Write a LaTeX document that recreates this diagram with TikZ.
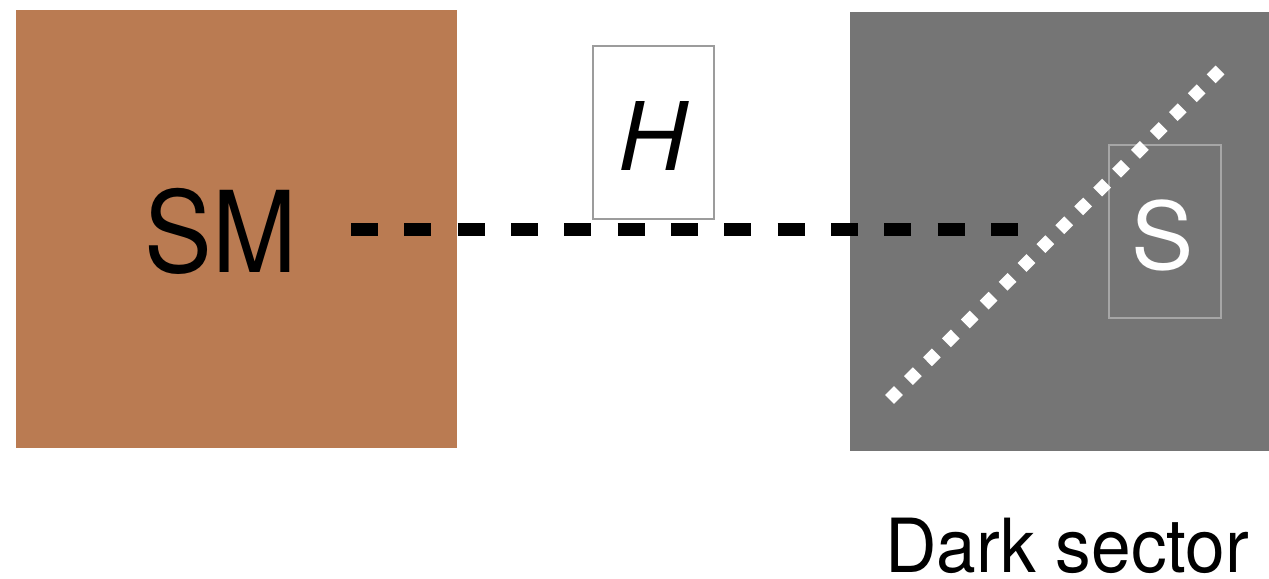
\documentclass[tikz,border=0pt]{standalone}
\usepackage{fontspec}
\setmainfont{TeX Gyre Heros}
\definecolor{smcol}{HTML}{BA7B52}
\definecolor{darkcol}{HTML}{757575}
\definecolor{boxgray}{HTML}{9C9C9C}
\definecolor{boxlight}{HTML}{A6A6A6}
\begin{document}
\begin{tikzpicture}[x=0.75pt,y=-0.75pt,
  sector/.style={draw=none,inner sep=0pt,outer sep=0pt},
  labelbox/.style={draw=#1,line width=1.5pt,inner sep=0pt,outer sep=0pt},
  bigtext/.style={inner sep=0pt,outer sep=0pt},
  mediator/.style={line width=9.75pt,dash pattern=on 20.25pt off 19.75pt,line cap=butt},
  darkline/.style={white,line width=9.4pt,dash pattern=on 9.4pt off 10.63pt,line cap=butt}]
\useasboundingbox (0,0) rectangle (1269,578);
% sectors
\node[sector,fill=smcol,minimum width=441*0.75pt,minimum height=438*0.75pt,anchor=north west] (smbox) at (16,10) {};
\node[sector,fill=darkcol,minimum width=419*0.75pt,minimum height=439*0.75pt,anchor=north west] (darkbox) at (850,12) {};
% labels
\node[bigtext] (sm) at (221,231.5) {\scalebox{0.9}[1]{\fontsize{84.6}{90}\selectfont SM}};
\node[bigtext,anchor=base west] (dark) at (885,572.5) {\scalebox{0.955}[1]{\fontsize{56}{60}\selectfont Dark sector}};
% H box
\node[labelbox=boxgray,fill=white,minimum width=121*0.75pt,minimum height=173*0.75pt] (hbox) at (653.5,132.5) {};
\node[bigtext] (h) at (653,135.5) {\fontsize{71}{75}\selectfont\itshape H};
% S box
\node[labelbox=boxlight,line width=1.2pt,minimum width=112*0.75pt,minimum height=173*0.75pt] (sbox) at (1165,231.5) {};
\node[bigtext,text=white] (s) at (1163,235) {\fontsize{70}{75}\selectfont S};
% mediator line
\coordinate (hstart) at (351,229.5);
\coordinate (hend) at (1018,229.5);
\draw[mediator] (hstart) -- (hend);
% dark line
\coordinate (dstart) at (889.6,399.4);
\coordinate (dend) at (1220.4,69.6);
\draw[darkline] (dstart) -- (dend);
\end{tikzpicture}
\end{document}
